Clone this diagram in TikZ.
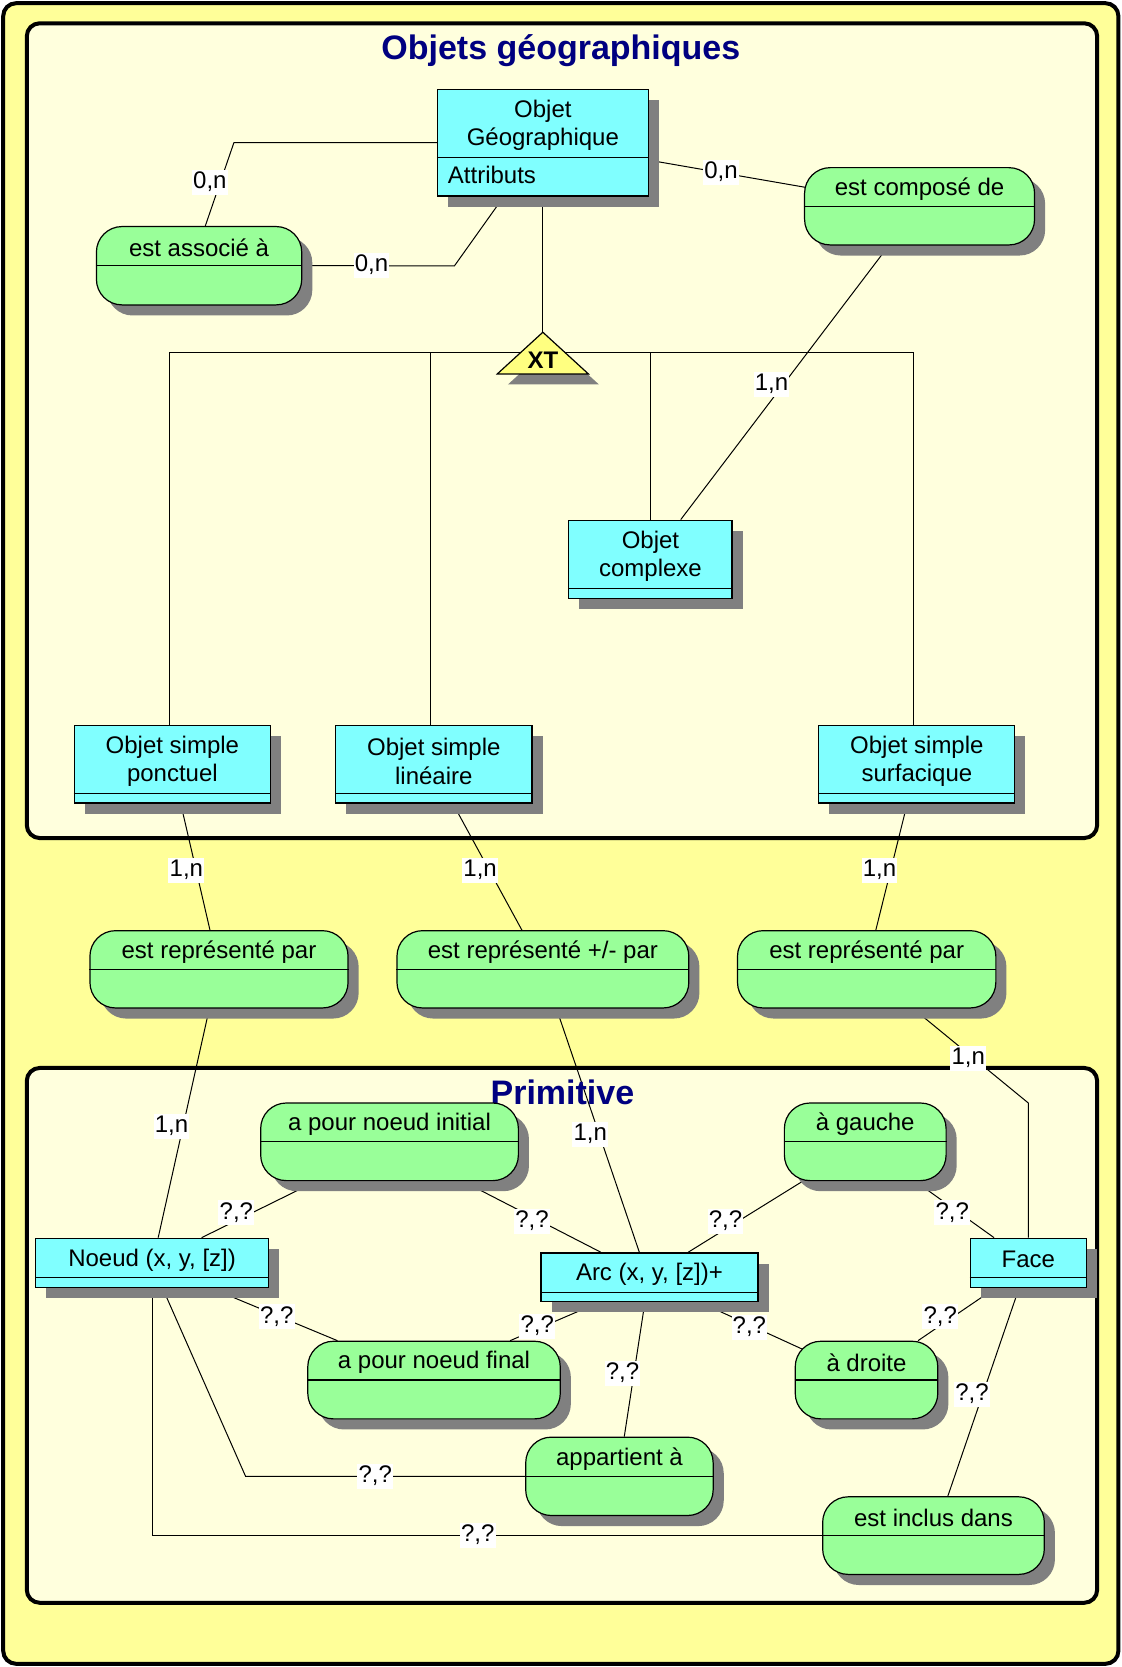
\documentclass[tikz,border=0pt]{standalone}
\usepackage{fontspec}
\setmainfont{Liberation Sans}
\usetikzlibrary{calc,fit,shadows}
\pgfdeclarelayer{bg}
\pgfdeclarelayer{lines}
\pgfsetlayers{bg,lines,main}
\definecolor{outery}{HTML}{FFFF99}
\definecolor{innery}{HTML}{FFFFDD}
\definecolor{entcyan}{HTML}{80FFFF}
\definecolor{relgreen}{HTML}{99FF99}
\definecolor{shadowgray}{HTML}{808080}
\definecolor{titleblue}{HTML}{000080}
\definecolor{xtyellow}{HTML}{FFFF80}
\newcommand\mkent[7]{%
  \node[entity, fit={(#2,#3) (#4,#5)}] (#1) {};
  \draw[divline] ($(#1.south west)+(0,-#6)$) -- ($(#1.south east)+(0,-#6)$);
  \node[etext] (#1-t) at ($(#1.north)+(0,{(#5-#3-#6)/2+2.5})$) {#7};
}
\newcommand\mkrel[6]{%
  \node[relbox, fit={(#2,#3) (#4,#5)}] (#1) {};
  \draw[divline] (#1.west) -- (#1.east);
  \node[etext] (#1-t) at ($(#1.north)+(0,{(#5-#3)/4+2.5})$) {#6};
}
\begin{document}
\begin{tikzpicture}[x=0.53175pt,y=-0.53175pt,
  frame/.style={draw=black, line width=2pt, rounded corners=6.5pt},
  shadowed/.style={drop shadow={shadow xshift=5.3pt, shadow yshift=-5.3pt, fill=shadowgray, opacity=1}},
  entity/.style={draw=black, line width=0.6pt, fill=entcyan, inner sep=0pt, shadowed},
  relbox/.style={draw=black, line width=0.6pt, fill=relgreen, inner sep=0pt, rounded corners=12.8pt, shadowed},
  divline/.style={draw=black, line width=0.6pt},
  etext/.style={font=\fontsize{12}{14.2}\selectfont, align=center, inner sep=0pt},
  titletext/.style={font=\fontsize{17}{20}\selectfont\bfseries, text=titleblue, inner sep=0pt, anchor=base},
  link/.style={draw=black, line width=0.5pt},
  card/.style={fill=white, inner xsep=0.6pt, inner ysep=0.6pt, font=\fontsize{12}{14}\selectfont, text height=8.8pt, text depth=2.6pt},
]
\useasboundingbox (0,0) rectangle (1055,1568);

\begin{pgfonlayer}{bg}
  \path[frame, fill=outery] (3,3) rectangle (1052,1565);
  \path[frame, fill=innery] (25.2,21.9) rectangle (1032,788.3);
  \path[frame, fill=innery] (25.2,1004.5) rectangle (1032,1507.6);
\end{pgfonlayer}

\node[titletext] (t1) at (527.5,56.4) {Objets géographiques};
\node[titletext] (t2) at (529,1039) {Primitive};

% entities
\mkent{og}{411.4}{84}{609.8}{184.3}{36.7}{Objet\\Géographique}
\node[etext, anchor=west] (og-a) at ($(og.south west)+(10.1,-20.7)$) {Attributs};
\mkent{complexe}{535}{489.3}{688.6}{562.6}{9.7}{Objet\\complexe}
\mkent{ponctuel}{69.8}{682.3}{254.5}{755.4}{9.4}{Objet simple\\ponctuel}
\mkent{lineaire}{315.7}{682.3}{500.4}{755.4}{9.4}{Objet simple\\linéaire}
\mkent{surfacique}{770.2}{682.3}{954.6}{755.4}{9.4}{Objet simple\\surfacique}
\mkent{noeud}{33.6}{1164.7}{252.5}{1210.8}{9.4}{Noeud (x, y, [z])}
\mkent{arc}{508.8}{1178.5}{712.9}{1224.3}{9.4}{Arc (x, y, [z])+}
\mkent{face}{912.5}{1164.7}{1022}{1210.8}{9.8}{Face}

% relationships
\mkrel{assoc}{90.7}{213.1}{283.8}{286.8}{est associé à}
\mkrel{compose}{756.8}{157.7}{973.1}{230.4}{est composé de}
\mkrel{rep1}{84.6}{875.4}{327.4}{948.1}{est représenté par}
\mkrel{rep2}{373.4}{875.4}{647.9}{948.1}{est représenté +/- par}
\mkrel{rep3}{693.7}{875.4}{936.7}{948.1}{est représenté par}
\mkrel{init}{245.2}{1037.5}{487.6}{1110.5}{a pour noeud initial}
\mkrel{gauche}{737.8}{1037.5}{889.9}{1110.5}{à gauche}
\mkrel{final}{289.5}{1261.6}{527}{1334.6}{a pour noeud final}
\mkrel{droite}{748}{1261.6}{882.1}{1334.6}{à droite}
\mkrel{appart}{494.5}{1351.8}{670.8}{1425.5}{appartient à}
\mkrel{inclus}{773.8}{1407.9}{982.3}{1480.9}{est inclus dans}

% XT triangle
\coordinate (xtapex) at (510.6,312.5);
\coordinate (xtbar) at (510.6,331.3);
\path[draw=black, line width=0.6pt, fill=xtyellow,
  preaction={fill=shadowgray, transform canvas={xshift=5.3pt,yshift=-5.3pt}}]
  (xtapex) -- ++(42.8,39.2) -- ++(-85.6,0) -- cycle;
\node[font=\fontsize{12}{14}\selectfont\bfseries, inner sep=0pt] (xt) at (510.6,338.5) {XT};

\begin{pgfonlayer}{lines}
  \draw[link] (og.west) -- (220,134.2) -- node[card,pos=0.477,xshift=-5.2pt]{0,n} ($(assoc.north)+(5.85,0)$);
  \draw[link] (assoc.east) -- node[card,pos=0.455]{0,n} (427.5,250) -- ($(og.south)+(-36.7,0)$);
  \draw[link] ($(og.east)+(0,16.5)$) -- node[card,pos=0.462]{0,n} ($(compose.west)+(1,-17.9)$);
  \draw[link] ($(compose.south)+(-28.95,0)$) -- node[card,pos=0.508,xshift=-5.8pt]{1,n} ($(complexe.north)+(28.5,0)$);
  \draw[link] (og.south) -- (xtapex);
  \draw[link] ($(ponctuel.north)+(-2.65,0)$) |- (xtbar) -| ($(surfacique.north)+(-2.9,0)$);
  \draw[link] ($(lineaire.north)+(-3.35,0)$) |- (xtbar) -| (complexe.north);

  \draw[link] ($(ponctuel.south)+(7.85,0)$) -- node[card,pos=0.5275,xshift=-4.9pt]{1,n} ($(rep1.north)+(-8.5,0)$);
  \draw[link] ($(lineaire.south)+(18,0)$) -- node[card,pos=0.5275,xshift=-4.6pt]{1,n} ($(rep2.north)+(-19.75,0)$);
  \draw[link] ($(surfacique.south)+(-9.1,0)$) -- node[card,pos=0.5275,xshift=-5.6pt]{1,n} ($(rep3.north)+(8.6,0)$);
  \draw[link] ($(rep1.south)+(-9.1,0)$) -- node[card,pos=0.514,xshift=-5.8pt]{1,n} ($(noeud.north)+(5.75,0)$);
  \draw[link] ($(rep2.south)+(12.75,0)$) -- node[card,pos=0.517,xshift=-4.5pt]{1,n} ($(arc.north)+(-9.45,0)$);
  \draw[link] ($(rep3.south)+(43.7,0)$) -- node[card,pos=0.527,xshift=-2.8pt]{1,n} (967.25,1037.5) -- (face.north);

  \draw[link] ($(noeud.north)+(46.65,0)$) -- node[card,pos=0.439,xshift=-7.8pt]{?,?} ($(init.south)+(-69,0)$);
  \draw[link] ($(init.south)+(68.9,0)$) -- node[card,pos=0.562,xshift=-4.2pt]{?,?} ($(arc.north)+(-45.55,0)$);
  \draw[link] ($(gauche.south)+(-58.85,0)$) -- node[card,pos=0.562,xshift=-6.4pt]{?,?} ($(arc.north)+(36.35,0)$);
  \draw[link] ($(gauche.south)+(46.95,0)$) -- node[card,pos=0.561,xshift=-3.6pt]{?,?} ($(face.north)+(-32.25,0)$);
  \draw[link] ($(face.south)+(-30.85,0)$) -- node[card,pos=0.549,xshift=-6.4pt]{?,?} ($(droite.north)+(48.45,0)$);
  \draw[link] ($(arc.south)+(47.35,0)$) -- node[card,pos=0.521,xshift=-2.5pt]{?,?} ($(droite.west)+(9.4,-28.1)$);
  \draw[link] ($(arc.south)+(-46.95,0)$) -- node[card,pos=0.622,xshift=-3.3pt]{?,?} ($(final.north)+(71.55,0)$);
  \draw[link] ($(noeud.south)+(54.75,0)$) -- node[card,pos=0.549,xshift=-1.7pt]{?,?} ($(final.north)+(-90.85,0)$);
  \draw[link] ($(arc.south)+(-4.25,0)$) -- node[card,pos=0.531,xshift=-5.7pt]{?,?} ($(appart.north)+(4.55,0)$);
  \draw[link] ($(noeud.south)+(9.75,0)$) -- (231,1388.65) -- node[card,pos=0.464]{?,?} (appart.west);
  \draw[link] (noeud.south) |- node[card,pos=0.743]{?,?} (inclus.west);
  \draw[link] ($(face.south)+(-8.65,0)$) -- node[card,pos=0.512,xshift=-5.3pt]{?,?} ($(inclus.north)+(13.45,0)$);
\end{pgfonlayer}
\end{tikzpicture}
\end{document}
